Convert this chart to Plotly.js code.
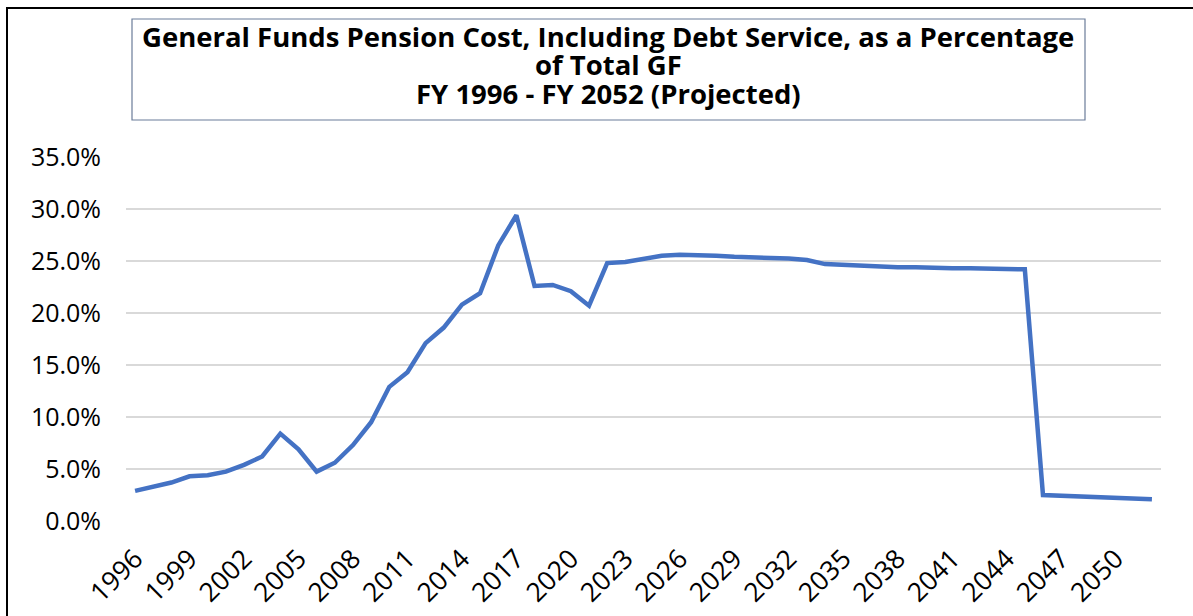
<!DOCTYPE html>
<html>
<head>
<meta charset="utf-8">
<script src="https://cdn.plot.ly/plotly-3.0.1.min.js"></script>
<style>
html,body{margin:0;padding:0;background:#fff;}
#chart{width:1193px;height:616px;}
</style>
</head>
<body>
<div id="chart"></div>
<script>
const years = [1996,1997,1998,1999,2000,2001,2002,2003,2004,2005,2006,2007,2008,2009,2010,2011,2012,2013,2014,2015,2016,2017,2018,2019,2020,2021,2022,2023,2024,2025,2026,2027,2028,2029,2030,2031,2032,2033,2034,2035,2036,2037,2038,2039,2040,2041,2042,2043,2044,2045,2046,2047,2048,2049,2050,2051,2052];
const pensionPct = [0.029,0.033,0.037,0.043,0.044,0.0475,0.054,0.062,0.084,0.069,0.0475,0.056,0.073,0.095,0.129,0.143,0.171,0.186,0.208,0.219,0.265,0.294,0.226,0.227,0.221,0.207,0.248,0.249,0.252,0.255,0.256,0.256,0.255,0.254,0.253,0.253,0.2525,0.251,0.247,0.246,0.245,0.245,0.244,0.244,0.243,0.243,0.243,0.243,0.243,0.242,0.025,0.0245,0.024,0.0235,0.023,0.0225,0.021];
const tickYears = [1996,1999,2002,2005,2008,2011,2014,2017,2020,2023,2026,2029,2032,2035,2038,2041,2044,2047,2050];
const titleLines = ["General Funds Pension Cost, Including Debt Service, as a Percentage","of Total GF","FY 1996 - FY 2052 (Projected)"];

const W = 1193, H = 616;
const mL = 126, mR = 32, mT = 157, mB = 95;
const pw = W - mL - mR, ph = H - mT - mB;
const px = v => (v - mL) / pw;
const py = v => (H - mB - v) / ph;

const fontFam = '"Open Sans", "Noto Sans", sans-serif';

const trace = {
  x: years,
  y: pensionPct,
  type: 'scatter',
  mode: 'lines',
  line: {color: '#4472c4', width: 4.5},
  hoverinfo: 'x+y'
};

const titleCenters = [36.5, 64.5, 93.5];
const titleAnnotations = titleLines.map((t, i) => ({
  xref: 'paper', yref: 'paper',
  x: px(608), y: py(titleCenters[i]),
  xanchor: 'center', yanchor: 'middle',
  text: '<b>' + t + '</b>',
  showarrow: false,
  font: {family: fontFam, size: 27.5, color: '#000'}
}));

const layout = {
  width: W, height: H,
  margin: {l: mL, r: mR, t: mT, b: mB, pad: 0},
  paper_bgcolor: '#ffffff',
  plot_bgcolor: '#ffffff',
  showlegend: false,
  font: {family: fontFam, color: '#000000', size: 25},
  xaxis: {
    range: [1995.5, 2052.5],
    tickmode: 'array',
    tickvals: tickYears,
    ticktext: tickYears.map(String),
    tickangle: -45,
    showgrid: false,
    zeroline: false,
    showline: false,
    ticks: '',
    ticklabelstandoff: 16,
    tickfont: {family: fontFam, size: 26.5, color: '#000'},
    fixedrange: true
  },
  yaxis: {
    range: [0, 0.35],
    dtick: 0.05,
    tick0: 0,
    tickformat: '.1%',
    showgrid: true,
    gridcolor: '#d9d9d9',
    gridwidth: 1.5,
    zeroline: false,
    showline: false,
    ticks: '',
    ticklabelstandoff: 24,
    tickfont: {family: fontFam, size: 25, color: '#000'},
    fixedrange: true
  },
  annotations: titleAnnotations,
  shapes: [{
    type: 'rect', xref: 'paper', yref: 'paper',
    x0: px(7), x1: px(1200), y0: py(625), y1: py(8),
    line: {color: '#000000', width: 2},
    fillcolor: 'rgba(0,0,0,0)',
    layer: 'above'
  }, {
    type: 'rect', xref: 'paper', yref: 'paper',
    x0: px(132), x1: px(1085), y0: py(120), y1: py(19),
    line: {color: '#6b7c99', width: 1.2},
    fillcolor: 'rgba(0,0,0,0)',
    layer: 'above'
  }]
};

Plotly.newPlot('chart', [trace], layout, {displayModeBar: false, staticPlot: true});
</script>
</body>
</html>
